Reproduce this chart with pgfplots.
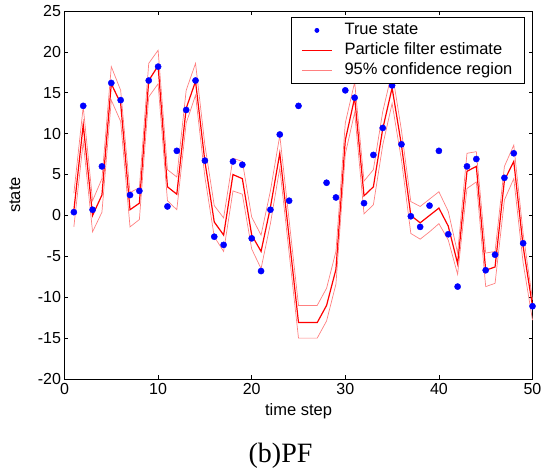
\documentclass[border=0pt]{standalone}
\usepackage{pgfplots}
\usepackage{pgfplotstable}
\pgfplotsset{compat=1.18}
\usepackage{fontspec}
\setmainfont{Liberation Sans}
\newfontfamily\capfont{Liberation Serif}

\pgfplotstableread{
t y
1 0.4
2 13.4
3 0.7
4 6.0
5 16.2
6 14.1
7 2.5
8 3.0
9 16.5
10 18.2
11 1.1
12 7.9
13 12.9
14 16.5
15 6.7
16 -2.6
17 -3.6
18 6.6
19 6.2
20 -2.8
21 -6.8
22 0.7
23 9.9
24 1.8
25 13.4
28 4.0
29 2.2
30 15.3
31 14.4
32 1.5
33 7.4
34 10.7
35 15.9
36 8.7
37 -0.1
38 -1.4
39 1.2
40 7.9
41 -2.3
42 -8.7
43 6.0
44 6.9
45 -6.7
46 -4.8
47 4.6
48 7.6
49 -3.4
50 -11.1
}\truestate

\pgfplotstableread{
t est up lo
1 0.6 2.7 -1.4
2 11.1 13.3 9.0
3 0.0 1.8 -2.0
4 2.5 4.5 0.4
5 16.1 18.2 14.1
6 13.7 15.3 11.5
7 0.7 2.8 -1.4
8 1.5 3.4 -0.5
9 16.5 18.6 14.5
10 18.3 20.2 16.1
11 3.5 5.6 1.8
12 2.6 4.7 0.7
13 13.1 15.3 11.3
14 16.4 18.6 14.7
15 6.6 8.6 4.7
16 -0.8 1.2 -2.6
17 -2.4 -0.3 -4.4
18 5.0 7.0 3.0
19 4.5 6.6 2.6
20 -2.4 -0.2 -4.1
21 -4.4 -2.4 -6.5
22 1.0 3.0 -1.0
23 7.6 9.8 5.8
24 -2.7 -0.6 -4.6
25 -13.1 -11.0 -15.0
26 -13.1 -11.0 -15.0
27 -13.1 -11.0 -15.0
28 -11.0 -8.9 -12.9
29 -6.6 -4.4 -8.4
30 9.2 11.3 7.5
31 14.4 16.3 12.6
32 2.4 4.2 0.2
33 3.5 5.6 1.3
34 10.6 12.7 8.6
35 15.6 17.6 13.7
36 8.6 10.4 6.8
37 0.0 1.7 -2.2
38 -0.9 1.1 -2.9
39 0.0 2.0 -2.0
40 0.9 2.9 -1.0
41 -1.3 0.5 -3.0
42 -5.9 -4.6 -7.2
43 5.4 7.6 3.3
44 6.0 7.8 4.1
45 -6.7 -4.6 -8.7
46 -6.3 -4.4 -8.3
47 4.3 6.0 1.9
48 6.6 8.6 4.5
49 -3.8 -2.2 -5.8
50 -11.1 -10.3 -12.8
}\pfest

\definecolor{lightred}{rgb}{1,0.5,0.5}

\begin{document}
\begin{tikzpicture}
\useasboundingbox (-64.5pt,-88pt) rectangle (478.5pt,379pt);
\begin{axis}[
  at={(0pt,0pt)}, anchor=south west,
  scale only axis, width=468pt, height=368pt,
  xmin=0, xmax=50, ymin=-20, ymax=25,
  xtick={0,10,...,50}, ytick={-20,-15,...,25},
  tick align=inside, major tick length=4pt,
  axis line style={line width=0.8pt},
  every tick/.style={black, line width=0.6pt},
  tick label style={font=\fontsize{16}{18}\selectfont},
  xticklabel style={yshift=-0.5pt},
  /pgf/number format/assume math mode=true,
  xlabel={time step}, ylabel={state},
  label style={font=\fontsize{16.5}{18}\selectfont},
  xlabel style={at={(axis description cs:0.5,-0.1005)}, anchor=base},
  ylabel style={at={(axis description cs:-0.1058,0.5)}, anchor=center},
  clip=false,
  legend cell align=left,
  legend image code/.code={\draw[mark repeat=2, mark phase=2, #1] plot coordinates {(0pt,0pt) (15pt,0pt) (30pt,0pt)};},
  legend style={at={(1,1)}, anchor=north east, xshift=-7.7pt, yshift=-5.7pt,
    draw=black, line width=0.8pt, fill=white,
    font=\fontsize{16.5}{18}\selectfont,
    inner xsep=10pt, inner ysep=3.3pt, column sep=10pt, row sep=0pt,
    nodes={inner xsep=2pt, inner ysep=2.25pt, text height=12pt, text depth=3.5pt}},
]
\addplot[only marks, mark=*, mark size=3.1pt, color=blue,
  legend image post style={mark size=2pt}]
  table[x=t, y=y] {\truestate};
\addlegendentry{True state}
\addplot[red, line width=1.2pt] table[x=t, y=est] {\pfest};
\addlegendentry{Particle filter estimate}
\addplot[lightred, line width=0.7pt] table[x=t, y=up] {\pfest};
\addlegendentry{95\% confidence region}
\addplot[lightred, line width=0.7pt, forget plot] table[x=t, y=lo] {\pfest};
\end{axis}
\node[anchor=base, font=\capfont\fontsize{28}{31}\selectfont] at (216pt,-83pt) {(b)PF};
\end{tikzpicture}
\end{document}
